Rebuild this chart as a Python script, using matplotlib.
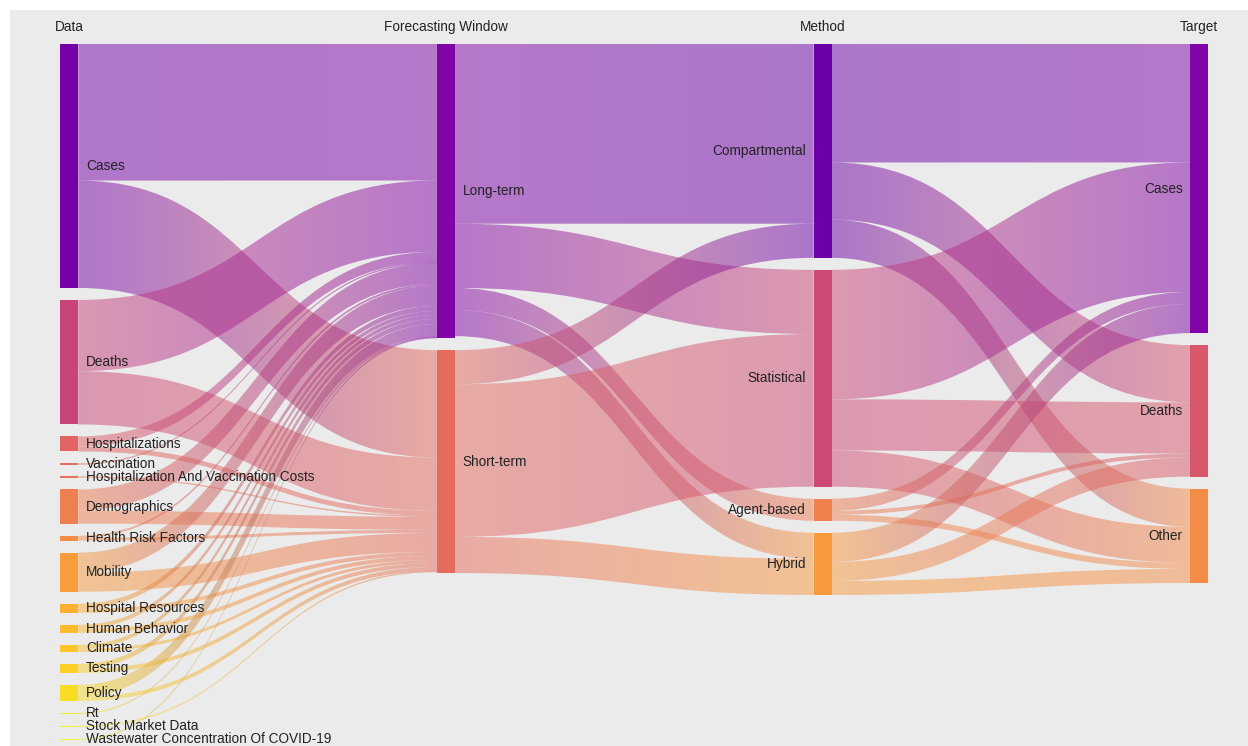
import numpy as np
import matplotlib
matplotlib.use("Agg")
import matplotlib.pyplot as plt
from matplotlib.path import Path
from matplotlib.patches import PathPatch, Rectangle
from matplotlib import colormaps

# ---------------- data ----------------
columns = ["Data", "Forecasting Window", "Method", "Target"]
data_nodes = ["Cases", "Deaths", "Hospitalizations", "Vaccination",
              "Hospitalization And Vaccination Costs", "Demographics",
              "Health Risk Factors", "Mobility", "Hospital Resources",
              "Human Behavior", "Climate", "Testing", "Policy", "Rt",
              "Stock Market Data", "Wastewater Concentration Of COVID-19"]
window_nodes = ["Long-term", "Short-term"]
method_nodes = ["Compartmental", "Statistical", "Agent-based", "Hybrid"]
target_nodes = ["Cases", "Deaths", "Other"]

# Data -> Forecasting window
data_to_long = [136, 71, 10, 1, 0, 21, 2, 20, 5, 4, 4, 5, 12, 1, 0, 1]
data_to_short = [107, 53, 5, 0, 1, 13, 3, 19, 4, 4, 3, 4, 4, 0, 1, 0]
# Forecasting window -> Method (Compartmental, Statistical, Agent-based, Hybrid)
long_to_method = [179, 64, 22, 26]
short_to_method = [34, 152, 0, 36]
# Method -> Target
method_to_cases = [118, 129, 12, 29]
method_to_deaths = [57, 51, 4, 19]
method_to_other = [38, 36, 6, 14]

# ---------------- build graph ----------------
cols = [data_nodes, window_nodes, method_nodes, target_nodes]
links = []  # (col, src_idx, tgt_idx, value)
for i in range(len(data_nodes)):
    links.append((0, i, 0, data_to_long[i]))
    links.append((0, i, 1, data_to_short[i]))
for j in range(len(method_nodes)):
    links.append((1, 0, j, long_to_method[j]))
    links.append((1, 1, j, short_to_method[j]))
for j in range(len(method_nodes)):
    links.append((2, j, 0, method_to_cases[j]))
    links.append((2, j, 1, method_to_deaths[j]))
    links.append((2, j, 2, method_to_other[j]))
links = [l for l in links if l[3] > 0]

# node values
vals = [[0.0] * len(c) for c in cols]
for c in range(len(cols)):
    for k in range(len(cols[c])):
        out_v = sum(l[3] for l in links if l[0] == c and l[1] == k)
        in_v = sum(l[3] for l in links if l[0] == c - 1 and l[2] == k)
        vals[c][k] = max(out_v, in_v)

# ---------------- layout ----------------
W, H = 1248, 746
top, bottom = 44.0, 740.0
gap = 12.0
left_x, right_x = 60.3, 1190.3
node_w = 18.0
ky = min((bottom - top - (len(c) - 1) * gap) / sum(v) for c, v in zip(cols, vals))
colx = [left_x + i * (right_x - left_x) / (len(cols) - 1) for i in range(len(cols))]

ny0, ny1 = [], []
for c in range(len(cols)):
    y = top
    a, b = [], []
    for k in range(len(cols[c])):
        a.append(y)
        y += vals[c][k] * ky
        b.append(y)
        y += gap
    ny0.append(a)
    ny1.append(b)

cmap = colormaps["plasma"]
def node_color(c, k):
    t = ((ny0[c][k] + ny1[c][k]) / 2 - top) / (bottom - top)
    return cmap(0.06 + 0.94 * t)

# link offsets
out_off = [list(a) for a in ny0]
in_off = [list(a) for a in ny0]
link_geo = []
for l in sorted(links, key=lambda l: (l[0], l[1], l[2])):
    c, s, t, v = l
    h = v * ky
    sy0 = out_off[c][s]; out_off[c][s] += h
    link_geo.append([c, s, t, v, sy0, sy0 + h, None, None])
for g in sorted(link_geo, key=lambda g: (g[0], g[2], g[1])):
    c, s, t, v = g[:4]
    h = v * ky
    ty0 = in_off[c + 1][t]; in_off[c + 1][t] += h
    g[6], g[7] = ty0, ty0 + h

# ---------------- draw ----------------
fig = plt.figure(figsize=(W / 100, H / 100), dpi=100, facecolor="white")
ax = fig.add_axes([0, 0, 1, 1])
ax.set_xlim(0, W)
ax.set_ylim(H, 0)
ax.axis("off")
ax.add_patch(Rectangle((10, 10), W - 10, H - 10, facecolor="#ebebeb",
                       edgecolor="none", zorder=0))

alpha = 0.5
for c, s, t, v, sy0, sy1, ty0, ty1 in link_geo:
    x0 = colx[c] + node_w
    x1 = colx[c + 1]
    xm = (x0 + x1) / 2
    # ensure very thin links remain visible
    if sy1 - sy0 < 1.4:
        d = (1.4 - (sy1 - sy0)) / 2
        sy0, sy1, ty0, ty1 = sy0 - d, sy1 + d, ty0 - d, ty1 + d
    verts = [(x0, sy0), (xm, sy0), (xm, ty0), (x1, ty0),
             (x1, ty1), (xm, ty1), (xm, sy1), (x0, sy1), (x0, sy0)]
    codes = [Path.MOVETO, Path.CURVE4, Path.CURVE4, Path.CURVE4,
             Path.LINETO, Path.CURVE4, Path.CURVE4, Path.CURVE4, Path.CLOSEPOLY]
    patch = PathPatch(Path(verts, codes), facecolor="none", edgecolor="none")
    ax.add_patch(patch)
    c0 = np.array(node_color(c, s))
    c1 = np.array(node_color(c + 1, t))
    n = 256
    f = np.linspace(0, 1, n)[:, None]
    grad = c0[None, :] * (1 - f) + c1[None, :] * f
    grad[:, 3] = alpha
    img = ax.imshow(grad[None, :, :], extent=(x0, x1, max(sy1, ty1) + 1, min(sy0, ty0) - 1),
                    aspect="auto", interpolation="bilinear", zorder=1)
    img.set_clip_path(patch)

font = "Liberation Sans"
fs = 9.8
for c in range(len(cols)):
    for k, name in enumerate(cols[c]):
        hgt = ny1[c][k] - ny0[c][k]
        y0 = ny0[c][k]
        if hgt < 1.6:
            y0 -= (1.6 - hgt) / 2
            hgt = 1.6
        ax.add_patch(Rectangle((colx[c], y0), node_w, hgt,
                               facecolor=node_color(c, k), edgecolor="none", zorder=3))
        yc = (ny0[c][k] + ny1[c][k]) / 2
        if c < 2:
            ax.text(colx[c] + node_w + 7.5, yc, name, ha="left", va="center",
                    fontsize=fs, family=font, color="#222222", zorder=4)
        else:
            ax.text(colx[c] - 7.5, yc, name, ha="right", va="center",
                    fontsize=fs, family=font, color="#222222", zorder=4)
    ax.text(colx[c] + node_w / 2, 27, columns[c], ha="center", va="center",
            fontsize=fs, family=font, color="#222222", zorder=4)

ax.set_xlim(0, W)
ax.set_ylim(H, 0)
fig.savefig("out.png", dpi=100, facecolor="white")
